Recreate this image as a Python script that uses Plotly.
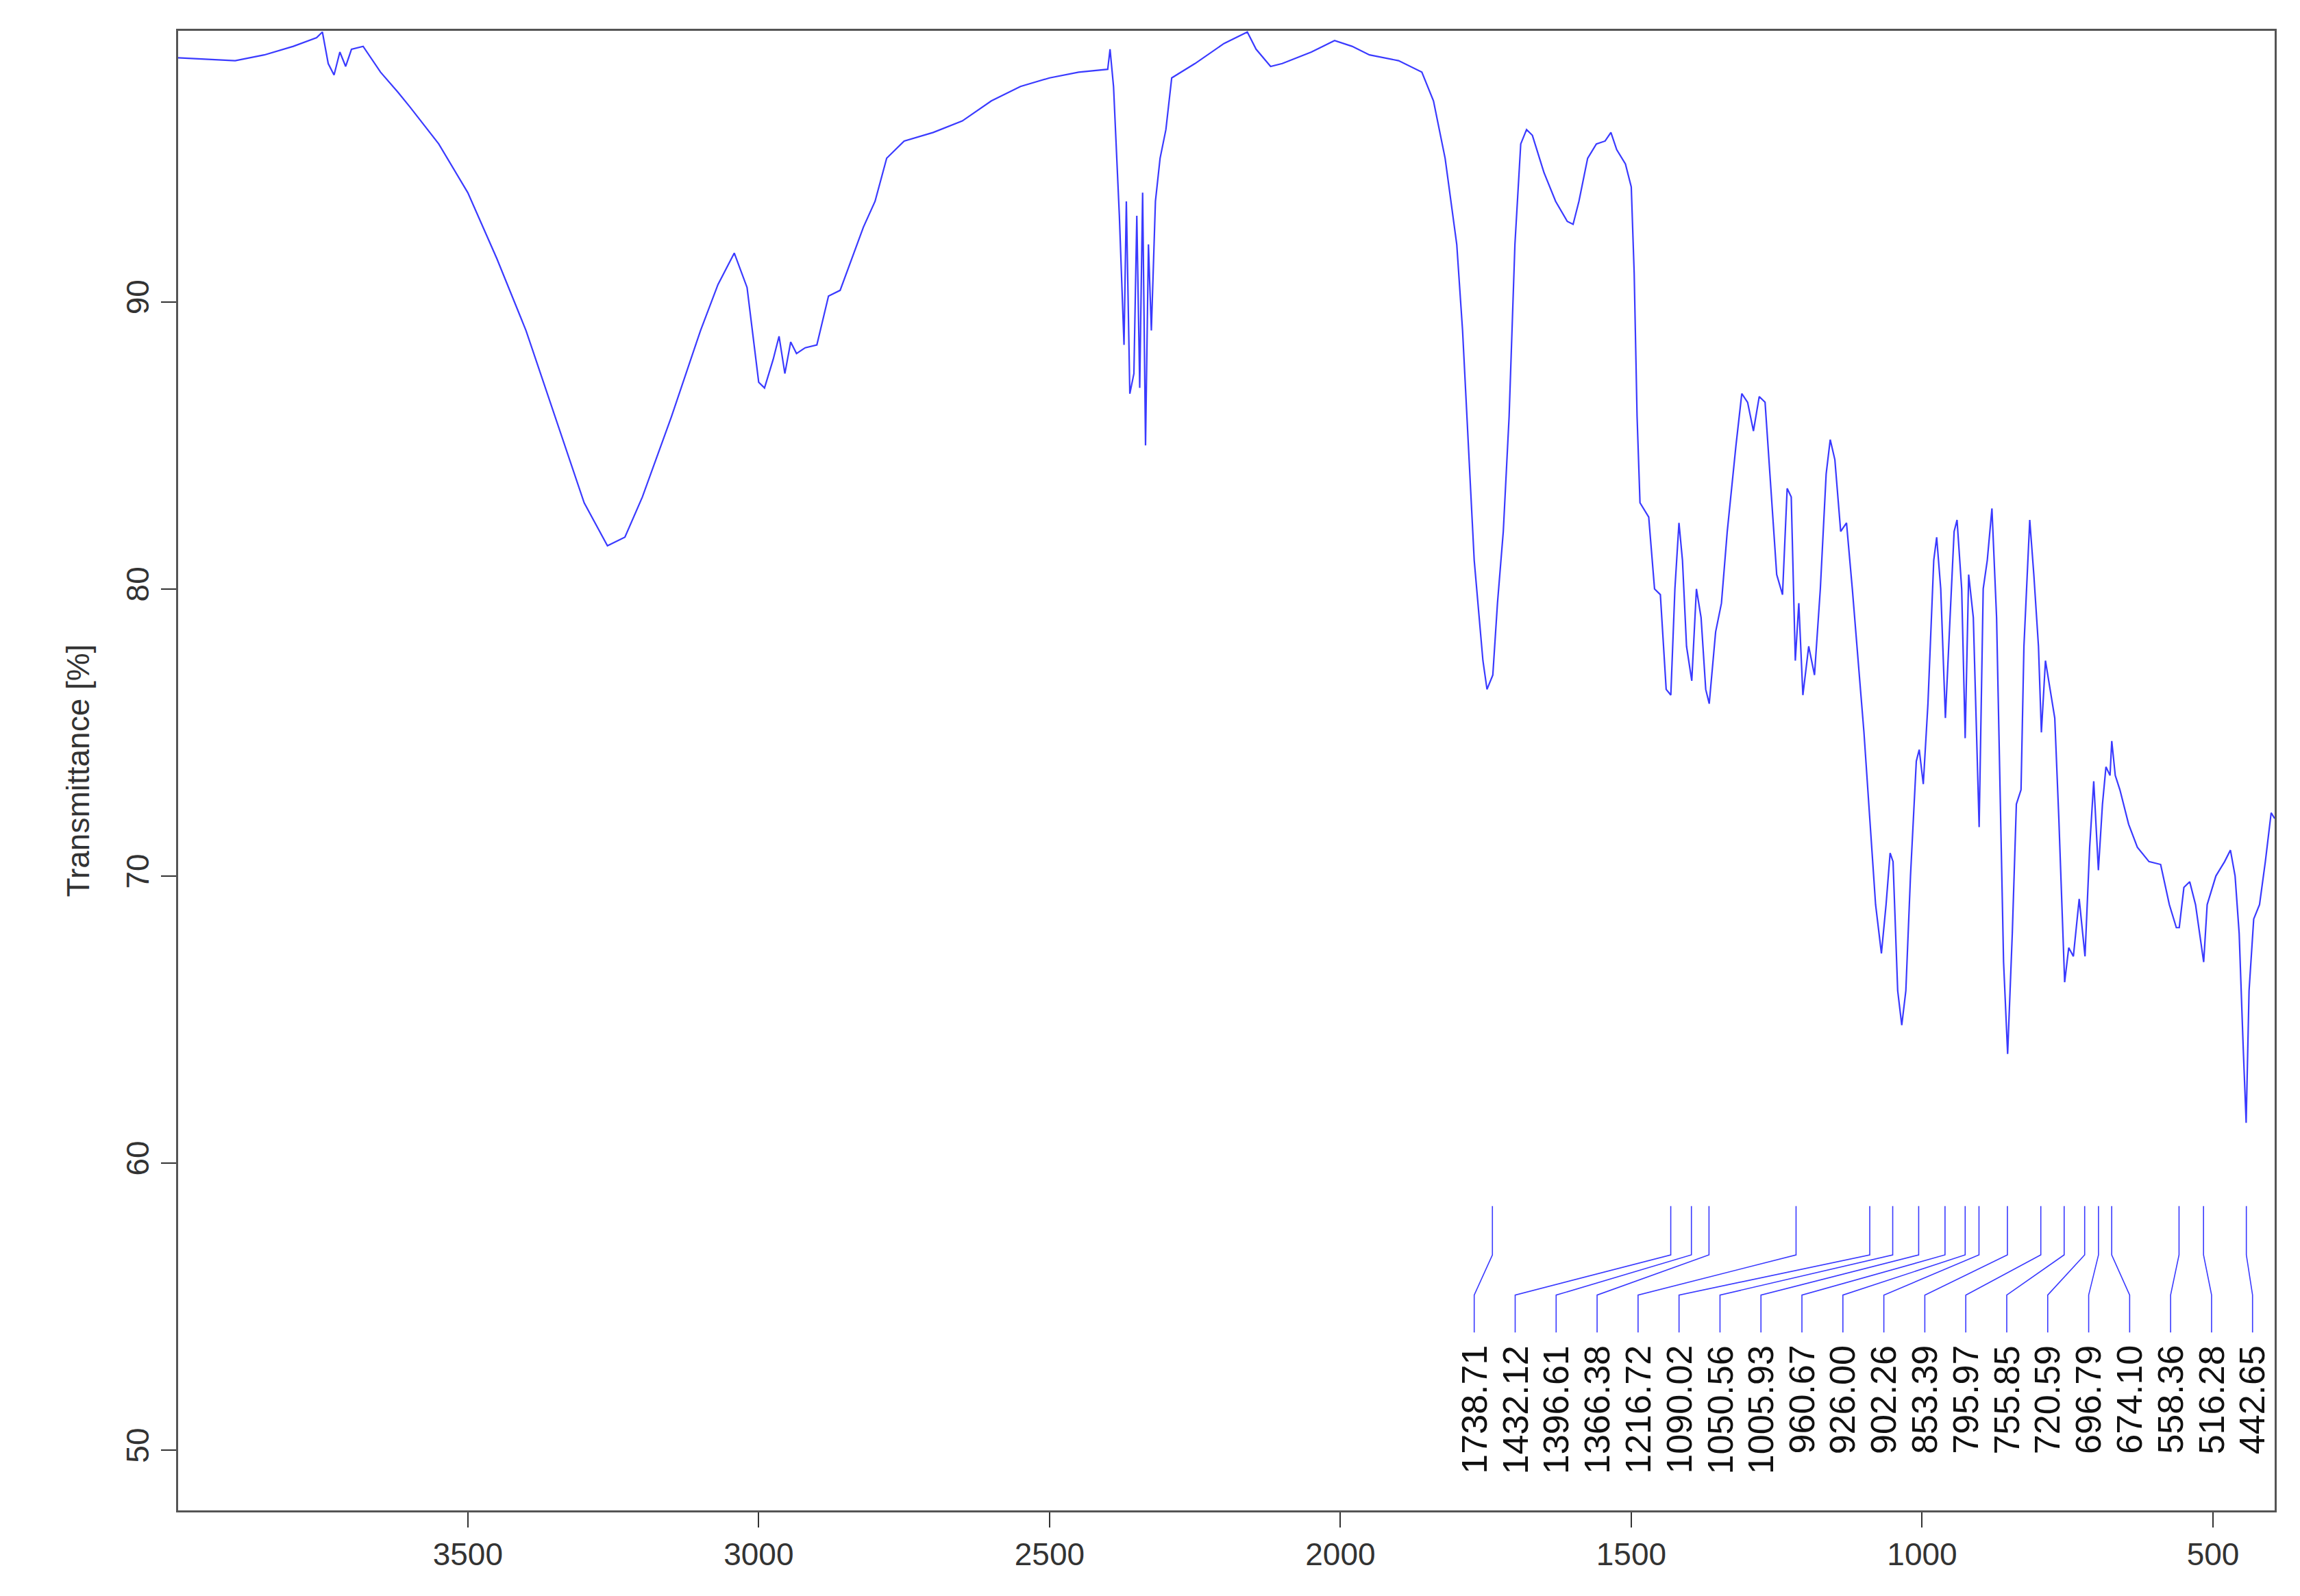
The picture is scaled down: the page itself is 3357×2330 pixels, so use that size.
import plotly.graph_objects as go

# IR spectrum
wavenumber = [3998, 3900, 3850, 3800, 3760, 3750, 3740, 3730, 3720, 3710, 3700, 3680, 3650, 3620, 3600,
              3550, 3500, 3450, 3400, 3350, 3300, 3260, 3230, 3200, 3150, 3100, 3070, 3042, 3020, 3000,
              2990, 2975, 2965, 2955, 2945, 2935, 2920, 2900, 2880, 2860, 2840, 2820, 2800, 2780, 2750,
              2700, 2650, 2600, 2550, 2500, 2450, 2400, 2396, 2390, 2380, 2372, 2368, 2362, 2355, 2350,
              2345, 2340, 2335, 2330, 2325, 2318, 2310, 2300, 2290, 2250, 2200, 2160, 2145, 2120, 2100,
              2050, 2010, 1980, 1950, 1900, 1860, 1840, 1820, 1800, 1790, 1780, 1770, 1755, 1748, 1738,
              1730, 1720, 1710, 1700, 1690, 1680, 1670, 1650, 1630, 1610, 1600, 1590, 1575, 1560, 1545,
              1535, 1525, 1510, 1500, 1495, 1490, 1485, 1470, 1460, 1450, 1440, 1432, 1425, 1418, 1412,
              1405, 1396, 1388, 1380, 1372, 1366, 1355, 1345, 1335, 1320, 1310, 1300, 1290, 1280, 1270,
              1260, 1250, 1240, 1232, 1225, 1218, 1212, 1205, 1195, 1185, 1175, 1165, 1158, 1150, 1140,
              1130, 1120, 1110, 1100, 1090, 1080, 1070, 1062, 1055, 1050, 1042, 1035, 1028, 1020, 1010,
              1005, 998, 990, 980, 975, 968, 960, 952, 945, 940, 932, 926, 920, 912, 902,
              895, 888, 880, 872, 865, 860, 853, 845, 838, 830, 825, 815, 808, 800, 795,
              788, 780, 772, 765, 755, 748, 740, 730, 720, 712, 705, 697, 690, 684, 677,
              674, 668, 660, 645, 630, 610, 590, 575, 563, 558, 550, 540, 530, 520, 516,
              510, 495, 480, 470, 462, 455, 448, 443, 438, 430, 420, 410, 400, 394]
transmittance = [98.5, 98.4, 98.6, 98.9, 99.2, 99.4, 98.3, 97.9, 98.7, 98.2, 98.8, 98.9, 98.0, 97.3, 96.8,
                 95.5, 93.8, 91.5, 89.0, 86.0, 83.0, 81.5, 81.8, 83.2, 86.0, 89.0, 90.6, 91.7, 90.5, 87.2,
                 87.0, 88.0, 88.8, 87.5, 88.6, 88.2, 88.4, 88.5, 90.2, 90.4, 91.5, 92.6, 93.5, 95.0, 95.6,
                 95.9, 96.3, 97.0, 97.5, 97.8, 98.0, 98.1, 98.8, 97.5, 93.0, 88.5, 93.5, 86.8, 87.5, 93.0,
                 87.0, 93.8, 85.0, 92.0, 89.0, 93.5, 95.0, 96.0, 97.8, 98.3, 99.0, 99.4, 98.8, 98.2, 98.3,
                 98.7, 99.1, 98.9, 98.6, 98.4, 98.0, 97.0, 95.0, 92.0, 89.0, 85.0, 81.0, 77.5, 76.5, 77.0,
                 79.5, 82.0, 86.0, 92.0, 95.5, 96.0, 95.8, 94.5, 93.5, 92.8, 92.7, 93.5, 95.0, 95.5, 95.6,
                 95.9, 95.3, 94.8, 94.0, 91.0, 86.0, 83.0, 82.5, 80.0, 79.8, 76.5, 76.3, 80.0, 82.3, 81.0,
                 78.0, 76.8, 80.0, 79.0, 76.5, 76.0, 78.5, 79.5, 82.0, 85.0, 86.8, 86.5, 85.5, 86.7, 86.5,
                 83.5, 80.5, 79.8, 83.5, 83.2, 77.5, 79.5, 76.3, 78.0, 77.0, 80.0, 84.0, 85.2, 84.5, 82.0,
                 82.3, 80.0, 77.5, 75.0, 72.0, 69.0, 67.3, 69.0, 70.8, 70.5, 66.0, 64.8, 66.0, 70.0, 74.0,
                 74.4, 73.2, 76.0, 81.0, 81.8, 80.0, 75.5, 79.0, 82.0, 82.4, 80.0, 74.8, 80.5, 79.0, 71.7,
                 80.0, 81.0, 82.8, 79.0, 72.0, 67.0, 63.8, 68.0, 72.5, 73.0, 78.0, 82.4, 80.5, 78.0, 75.0,
                 77.5, 76.5, 75.5, 72.0, 66.3, 67.5, 67.2, 69.2, 67.2, 71.0, 73.3, 70.2, 72.5, 73.8, 73.5,
                 74.7, 73.5, 73.0, 71.8, 71.0, 70.5, 70.4, 69.0, 68.2, 68.2, 69.6, 69.8, 69.0, 67.5, 67.0,
                 69.0, 70.0, 70.5, 70.9, 70.0, 68.0, 64.0, 61.4, 66.0, 68.5, 69.0, 70.5, 72.2, 72.0]

peaks = [1738.71, 1432.12, 1396.61, 1366.38, 1216.72, 1090.02, 1050.56, 1005.93, 960.67, 926.00,
         902.26, 853.39, 795.97, 755.85, 720.59, 696.79, 674.10, 558.36, 516.28, 442.65]

blue = "#3a3aff"
fig = go.Figure()
fig.add_trace(go.Scatter(x=wavenumber, y=transmittance, mode="lines",
                         line=dict(color=blue, width=2.2), hoverinfo="skip"))

# peak leader lines: vertical at peak, slant to evenly spaced label slot, vertical down
n = len(peaks)
left_slot, right_slot = 1770, 432
for i, p in enumerate(peaks):
    slot = left_slot - i * (left_slot - right_slot) / (n - 1)
    fig.add_trace(go.Scatter(x=[p, p, slot, slot], y=[58.5, 56.8, 55.4, 54.1], mode="lines",
                             line=dict(color=blue, width=1.6), hoverinfo="skip"))
    fig.add_annotation(x=slot, y=53.7, text=f"{p:.2f}", showarrow=False, textangle=-90,
                       yanchor="top", xanchor="center",
                       font=dict(size=52, color="#111111", family="Liberation Sans"))

axis_common = dict(showgrid=False, zeroline=False, showline=True, linecolor="#555555", linewidth=3,
                   mirror=True, ticks="outside", ticklen=22, tickwidth=2, tickcolor="#333333",
                   tickfont=dict(size=46, color="#333333", family="Liberation Sans"))
fig.update_layout(
    width=3357, height=2330, showlegend=False,
    plot_bgcolor="white", paper_bgcolor="white",
    margin=dict(l=252, r=45, t=37, b=133),
    xaxis=dict(range=[3998, 394], tickvals=[3500, 3000, 2500, 2000, 1500, 1000, 500], **axis_common),
    yaxis=dict(range=[47.9, 99.44], tickvals=[50, 60, 70, 80, 90], tickangle=-90,
               title=dict(text="Transmittance [%]", font=dict(size=46, color="#333333", family="Liberation Sans"),
                          standoff=30),
               **axis_common),
)
fig.write_html("out.html")
